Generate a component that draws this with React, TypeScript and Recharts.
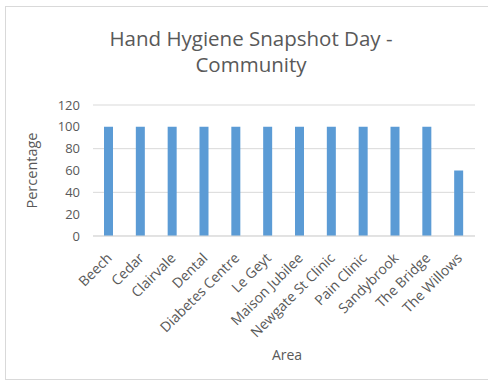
import React from 'react';
import { BarChart, Bar, XAxis, YAxis, CartesianGrid } from 'recharts';

const areas = ['Beech', 'Cedar', 'Clairvale', 'Dental', 'Diabetes Centre', 'Le Geyt', 'Maison Jubilee', 'Newgate St Clinic', 'Pain Clinic', 'Sandybrook', 'The Bridge', 'The Willows'];
const percentages = [100, 100, 100, 100, 100, 100, 100, 100, 100, 100, 100, 60];
const yTicks = [0, 20, 40, 60, 80, 100, 120];

const data = areas.map((a, i) => ({ area: a, value: percentages[i] }));

const FONT = '"Open Sans", "Noto Sans", sans-serif';
const TEXT = '#595959';

const XTick = (props: any) => {
  const { x, y, payload } = props;
  return (
    <g transform={`translate(${x + 4},${y + 15})`}>
      <text x={0} y={0} textAnchor="end" transform="rotate(-45)" fill={TEXT} fontSize={14} fontFamily={FONT}>
        {payload.value}
      </text>
    </g>
  );
};

export default function App() {
  return (
    <div style={{ position: 'absolute', left: 0, top: 0, width: 488, height: 387, background: '#fff', overflow: 'hidden' }}>
      <div style={{ position: 'absolute', left: 5, top: 6, width: 500, height: 374, border: '1.5px solid #d9d9d9', boxSizing: 'border-box' }} />
      <div style={{ position: 'absolute', left: 0, width: 502, top: 25, textAlign: 'center', fontFamily: FONT, fontSize: 20.5, color: TEXT, lineHeight: '26px' }}>
        Hand Hygiene Snapshot Day -<br />Community
      </div>
      <div style={{ position: 'absolute', left: 237, width: 100, top: 345, textAlign: 'center', fontFamily: FONT, fontSize: 14, color: TEXT }}>Area</div>
      <div style={{ position: 'absolute', left: 0, top: 0 }}>
        <BarChart width={488} height={387} data={data} margin={{ top: 105, right: 13, left: 30, bottom: 51 }}>
          <CartesianGrid vertical={false} stroke="#d9d9d9" />
          <XAxis dataKey="area" interval={0} tick={<XTick />} tickLine={false} axisLine={{ stroke: '#d9d9d9' }} height={100} />
          <YAxis
            domain={[0, 120]}
            ticks={yTicks}
            width={63}
            axisLine={false}
            tickLine={false}
            tickMargin={7}
            tick={{ fill: TEXT, fontSize: 13, fontFamily: FONT }}
            label={{ value: 'Percentage', angle: -90, position: 'insideLeft', offset: 2, style: { fill: TEXT, fontSize: 14.5, fontFamily: FONT, textAnchor: 'middle' } }}
          />
          <Bar dataKey="value" fill="#5B9BD5" barSize={9} isAnimationActive={false} />
        </BarChart>
      </div>
    </div>
  );
}
